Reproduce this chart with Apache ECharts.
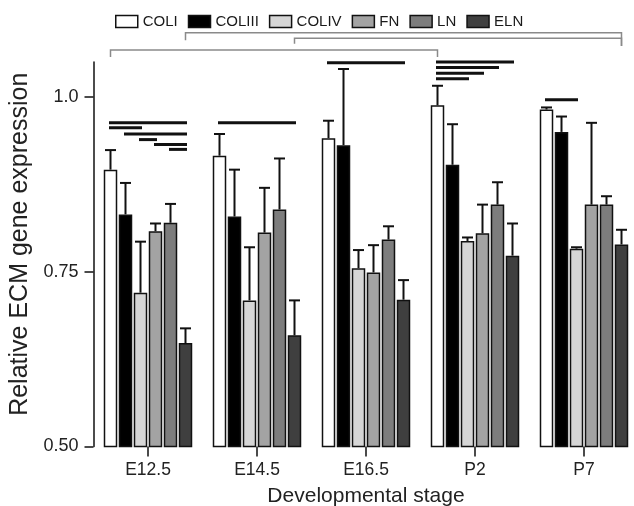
<!DOCTYPE html>
<html><head><meta charset="utf-8">
<script src="https://cdn.jsdelivr.net/npm/echarts@6/dist/echarts.min.js"></script>
<style>html,body{margin:0;padding:0;background:#fff}#c{width:634px;height:506px}</style>
</head><body><div id="c"></div>
<script>
// ---- data ----
const categories = ['E12.5', 'E14.5', 'E16.5', 'P2', 'P7'];
const seriesNames = ['COLI', 'COLIII', 'COLIV', 'FN', 'LN', 'ELN'];

const COLI   = [0.896, 0.916, 0.941, 0.988, 0.982];
const COLIII = [0.832, 0.829, 0.931, 0.903, 0.950];
const COLIV  = [0.720, 0.709, 0.755, 0.794, 0.783];
const FN     = [0.808, 0.806, 0.749, 0.805, 0.846];
const LN     = [0.820, 0.839, 0.796, 0.846, 0.846];
const ELN    = [0.648, 0.659, 0.710, 0.773, 0.789];

const COLI_err   = [0.028, 0.031, 0.025, 0.028, 0.003];
const COLIII_err = [0.045, 0.067, 0.109, 0.058, 0.022];
const COLIV_err  = [0.073, 0.076, 0.026, 0.005, 0.002];
const FN_err     = [0.011, 0.064, 0.039, 0.041, 0.117];
const LN_err     = [0.027, 0.073, 0.019, 0.032, 0.012];
const ELN_err    = [0.021, 0.050, 0.028, 0.046, 0.021];

const yTickValues = [0.5, 0.75, 1.0];
const yTickLabels = ['0.50', '0.75', '1.0'];

// significance lines within a stage: [stage, fromBar, toBar, y]
const sigLines = [
  [0, 0, 5, 0.963], [0, 0, 2, 0.956], [0, 1, 5, 0.947], [0, 2, 3, 0.939], [0, 3, 5, 0.932], [0, 4, 5, 0.925],
  [1, 0, 5, 0.963],
  [2, 0, 5, 1.049],
  [3, 0, 5, 1.050], [3, 0, 4, 1.042], [3, 0, 3, 1.034], [3, 0, 2, 1.026],
  [4, 0, 2, 0.996]
];
// brackets across stages: [fromStage, fromBar, toStage, toBar, yTop, yLeftEnd, yRightEnd]
const brackets = [
  [0, 5, 4, 5, 1.092, 1.081, 1.073],
  [1, 5, 4, 5, 1.084, 1.076, 1.073],
  [0, 0, 3, 0, 1.067, 1.057, 1.057]
];

// ---- styling ----
const FONT = '"Liberation Sans", Arial, Helvetica, sans-serif';
const BAR_W = 13.5, BAR_GAP = 1.5;
const colors = ['#ffffff', '#000000', '#d6d6d6', '#a3a3a3', '#7d7d7d', '#3f3f3f'];
const means = [COLI, COLIII, COLIV, FN, LN, ELN];
const errs = [COLI_err, COLIII_err, COLIV_err, FN_err, LN_err, ELN_err];
function barOffset(i) { return (i - (seriesNames.length - 1) / 2) * (BAR_W + BAR_GAP); }

const barSeries = seriesNames.map((n, i) => ({
  name: n, type: 'bar', data: means[i], barWidth: BAR_W,
  barGap: (BAR_GAP / BAR_W * 100).toFixed(2) + '%',
  itemStyle: { color: colors[i], borderColor: '#111', borderWidth: 1.5 },
  z: 2
}));

const errData = [];
seriesNames.forEach((n, i) => categories.forEach((c, j) => errData.push([j, means[i][j], errs[i][j], i])));

const chart = echarts.init(document.getElementById('c'));
chart.setOption({
  animation: false,
  textStyle: { fontFamily: FONT },
  legend: {
    data: seriesNames, left: 110, top: 9, icon: 'rect', itemWidth: 22, itemHeight: 12, itemGap: 10,
    itemStyle: { borderColor: '#111', borderWidth: 1.5 },
    textStyle: { fontSize: 15, color: '#1a1a1a', fontFamily: FONT }
  },
  grid: { left: 93.5, top: 62, width: 545, height: 384.5, containLabel: false, outerBoundsMode: 'none' },
  xAxis: {
    type: 'category', data: categories,
    axisLine: { show: false },
    axisTick: { show: true, alignWithLabel: true, length: 10, lineStyle: { color: '#111', width: 1.5 } },
    axisLabel: { fontSize: 17.5, color: '#222', margin: 15, fontFamily: FONT },
    name: 'Developmental stage', nameLocation: 'middle', nameGap: 39,
    nameTextStyle: { fontSize: 21, color: '#222', fontFamily: FONT }
  },
  yAxis: {
    type: 'value', min: 0.5, max: 1.05, interval: 0.25,
    axisLine: { show: true, lineStyle: { color: '#111', width: 1.5 } },
    axisTick: { show: true, length: 9, customValues: yTickValues, lineStyle: { color: '#111', width: 1.5 } },
    axisLabel: {
      customValues: yTickValues, fontSize: 18, color: '#222', margin: 15, fontFamily: FONT,
      formatter: v => { const k = yTickValues.findIndex(t => Math.abs(t - v) < 1e-6); return k >= 0 ? yTickLabels[k] : ''; }
    },
    splitLine: { show: false },
    name: 'Relative ECM gene expression', nameLocation: 'middle', nameGap: 60,
    nameTextStyle: { fontSize: 25, color: '#222', fontFamily: FONT, padding: [0, 0, 0, 20] }
  },
  series: barSeries.concat([
    {
      type: 'custom', data: errData, encode: { x: 0, y: 1 }, z: 5, clip: false, silent: true,
      renderItem: (params, api) => {
        const s = api.value(0), m = api.value(1), e = api.value(2), b = api.value(3);
        const p0 = api.coord([s, m]), p1 = api.coord([s, m + e]);
        const x = p0[0] + barOffset(b);
        const st = { stroke: '#111', lineWidth: 2 };
        return { type: 'group', children: [
          { type: 'line', shape: { x1: x, y1: p0[1], x2: x, y2: p1[1] }, style: st },
          { type: 'line', shape: { x1: x - 5.5, y1: p1[1], x2: x + 5.5, y2: p1[1] }, style: st }
        ] };
      }
    },
    {
      type: 'custom', data: sigLines, encode: { x: 0, y: 3 }, z: 5, clip: false, silent: true,
      renderItem: (params, api) => {
        const s = api.value(0), a = api.value(1), b = api.value(2), y = api.value(3);
        const p = api.coord([s, y]);
        return { type: 'line', shape: { x1: p[0] + barOffset(a) - 1.5, y1: p[1], x2: p[0] + barOffset(b) + 1.5, y2: p[1] },
                 style: { stroke: '#111', lineWidth: 3 } };
      }
    },
    {
      type: 'custom', data: brackets, encode: { x: 0, y: 4 }, z: 5, clip: false, silent: true,
      renderItem: (params, api) => {
        const s1 = api.value(0), b1 = api.value(1), s2 = api.value(2), b2 = api.value(3);
        const yt = api.value(4), yl = api.value(5), yr = api.value(6);
        const pl = api.coord([s1, yt]), pr = api.coord([s2, yt]);
        const xl = pl[0] + barOffset(b1), xr = pr[0] + barOffset(b2);
        const ylp = api.coord([s1, yl])[1], yrp = api.coord([s2, yr])[1];
        return { type: 'polyline', shape: { points: [[xl, ylp], [xl, pl[1]], [xr, pl[1]], [xr, yrp]] },
                 style: { stroke: '#8a8a8a', lineWidth: 1.5, fill: null } };
      }
    }
  ])
});
</script>
</body></html>
